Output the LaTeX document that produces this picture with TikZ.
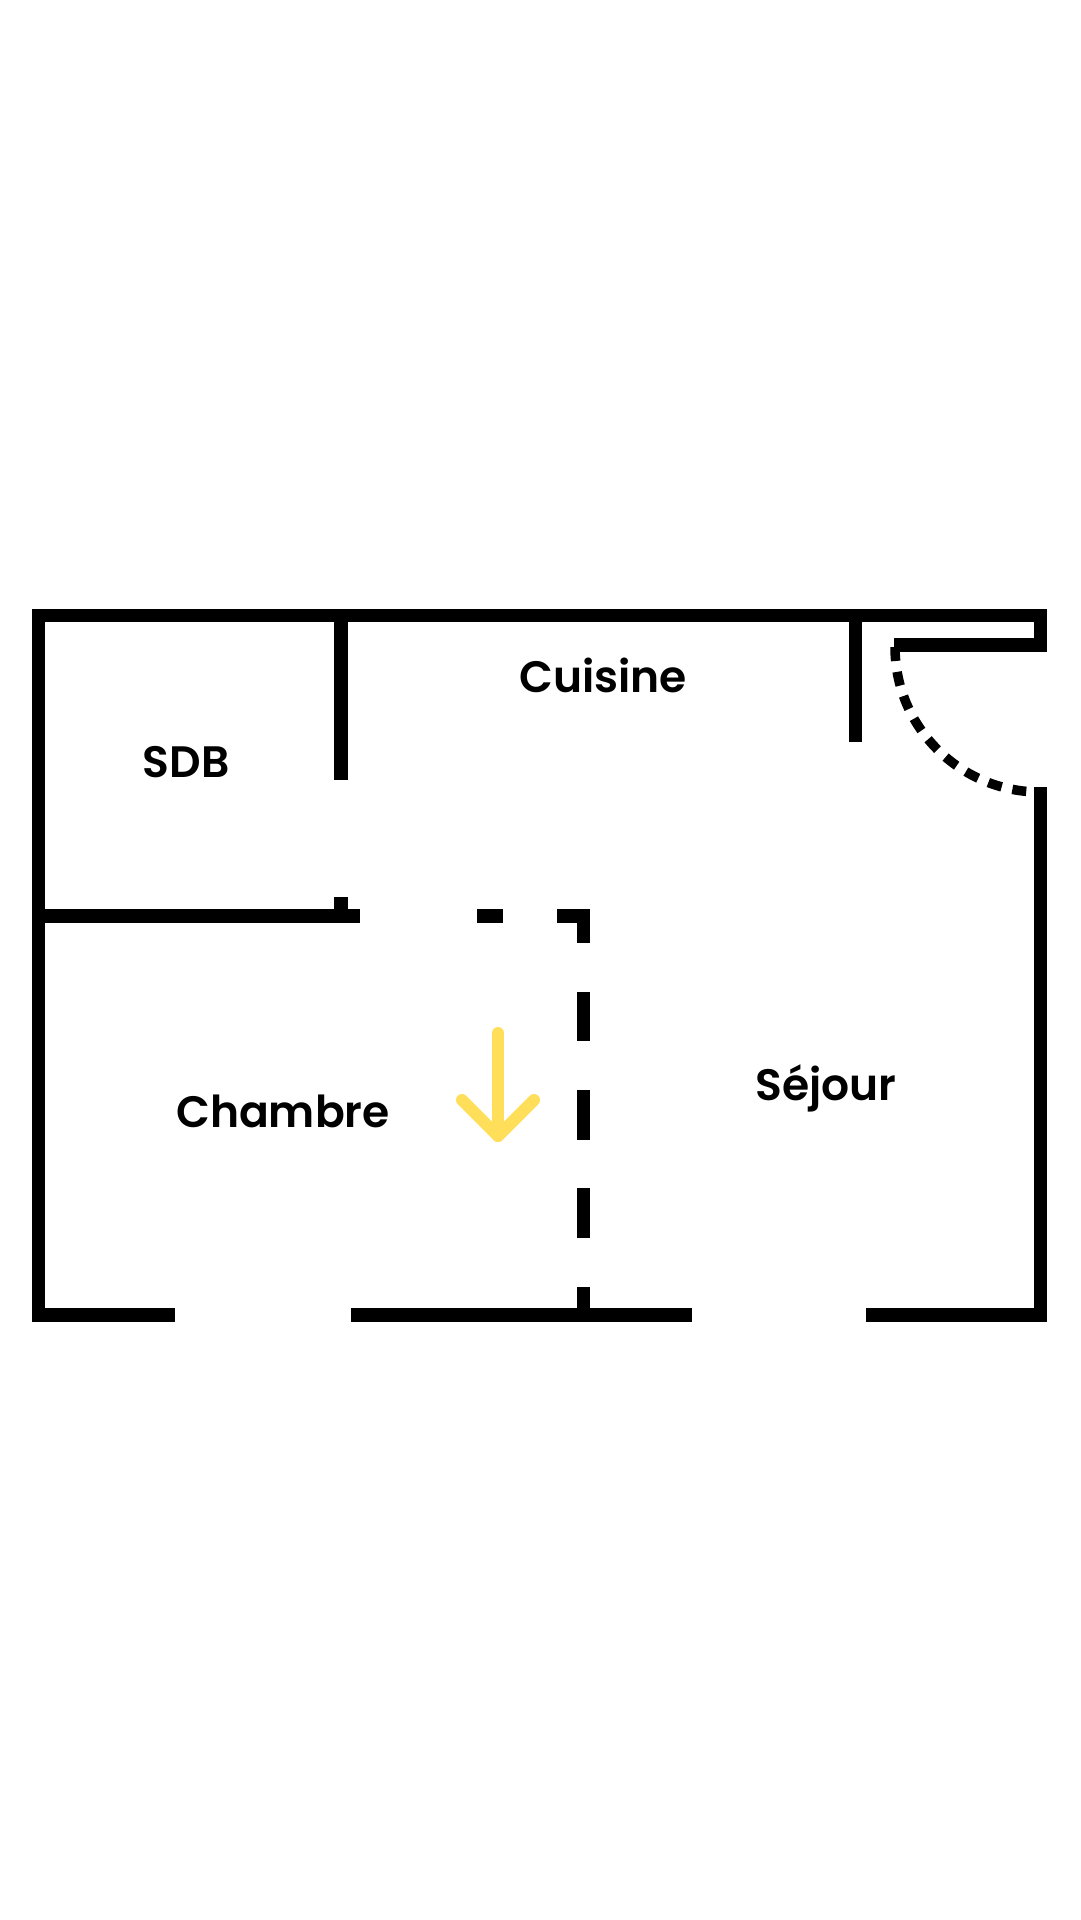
\documentclass[tikz,border=0pt]{standalone}
\usepackage{fontspec}
\setmainfont{Poppins SemiBold}
\definecolor{arrowyellow}{RGB}{255,222,89}
\tikzset{
  wall/.style={line width=13.5pt, line cap=butt, line join=miter, draw=black},
  doorarc/.style={line width=9.5pt, draw=black, dash pattern=on 14pt off 11pt},
  roomlabel/.style={font=\fontsize{44}{50}\selectfont, text=black, anchor=base, inner sep=0pt},
  yarrow/.style={line width=12pt, draw=arrowyellow, line cap=round, line join=round}
}
\begin{document}
\begin{tikzpicture}[x=1pt,y=-1pt]
\useasboundingbox (0,0) rectangle (1080,1920);
\fill[white] (0,0) rectangle (1080,1920);
% outer walls
\draw[wall] (175,1315) -- (38.5,1315) -- (38.5,615.5) -- (1040.5,615.5) -- (1040.5,645) -- (894,645);
\draw[wall] (1040.5,787) -- (1040.5,1315) -- (866,1315);
\draw[wall] (350.5,1315) -- (691.5,1315);
% SDB / Cuisine divider
\draw[wall] (341,615.5) -- (341,780);
% SDB / Chambre wall
\draw[wall] (38.5,916) -- (360,916);
\draw[wall] (341,897) -- (341,916);
% Cuisine right divider
\draw[wall] (855.5,615.5) -- (855.5,742);
% dashed partition
\draw[wall] (477,916) -- (503,916);
\draw[wall] (557,916) -- (583.5,916) -- (583.5,943);
\draw[wall] (583.5,992) -- (583.5,1041);
\draw[wall] (583.5,1090) -- (583.5,1140);
\draw[wall] (583.5,1188) -- (583.5,1238);
\draw[wall] (583.5,1287) -- (583.5,1315);
% door swing
\coordinate (doorstart) at (895,647);
\draw[doorarc] (doorstart) arc[start angle=180, end angle=90, radius=145];
% labels
\node[roomlabel] (sdb) at (186,777) {SDB};
\node[roomlabel] (cuisine) at (603,692) {Cuisine};
\node[roomlabel] (chambre) at (283,1127) {Chambre};
\node[roomlabel] (sejour) at (826,1100) {Séjour};
% yellow arrow
\coordinate (atop) at (498,1033);
\coordinate (atip) at (498,1136);
\coordinate (aleft) at (462,1100);
\coordinate (aright) at (534,1100);
\draw[yarrow] (atop) -- (atip);
\draw[yarrow] (aleft) -- (atip) -- (aright);
\end{tikzpicture}
\end{document}
